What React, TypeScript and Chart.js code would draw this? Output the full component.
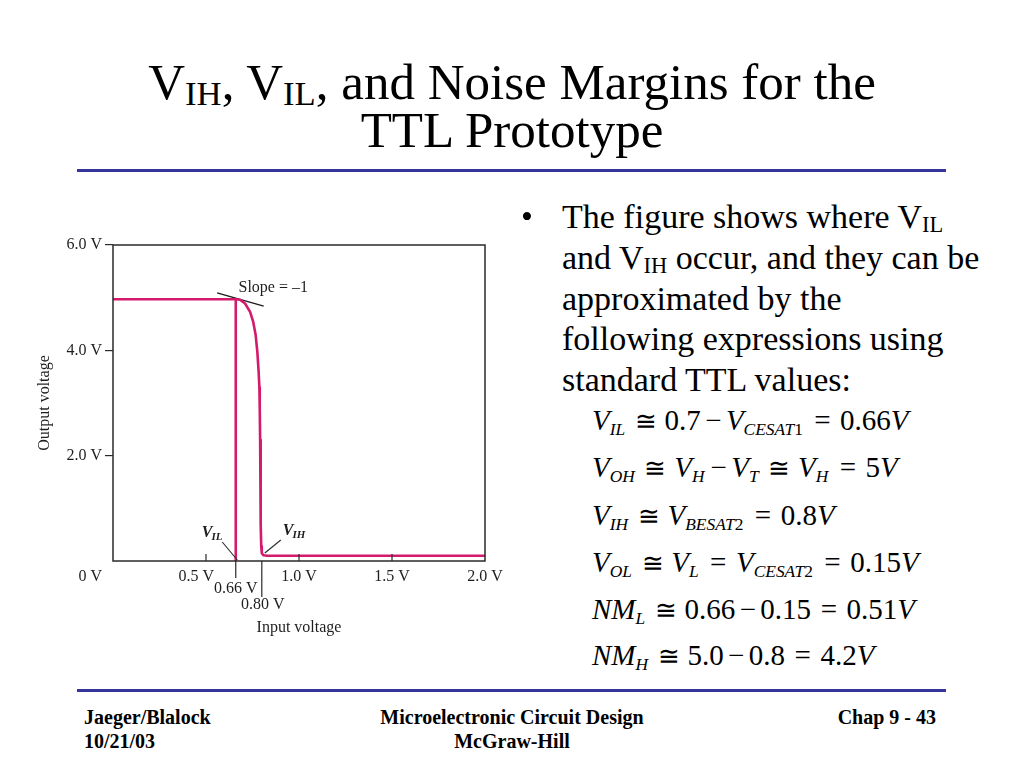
import React, { useEffect, useRef } from "react";
import { Chart, registerables } from "chart.js";

Chart.register(...registerables);

// ---- data ----
const inputVoltage = [0, 0.6, 0.66, 0.683, 0.71, 0.737, 0.754, 0.767, 0.776, 0.783, 0.787, 0.789, 0.791, 0.793, 0.795, 0.797, 0.8, 0.808, 0.83, 1.0, 1.5, 2.0];
const outputVoltage = [4.97, 4.97, 4.97, 4.96, 4.89, 4.73, 4.54, 4.29, 3.97, 3.59, 3.3, 2.9, 2.3, 1.5, 0.7, 0.28, 0.15, 0.11, 0.1, 0.1, 0.1, 0.1];
const vilLineX = [0.66, 0.66];
const vilLineY = [0, 4.97];
const slopeLineX = [0.56, 0.81];
const slopeLineY = [5.09, 4.84];
const slopeTouch = [0.68, 4.97];
const xTicks = [0.5, 1.0, 1.5, 2.0];
const xTickLabels = ["0.5 V", "1.0 V", "1.5 V", "2.0 V"];
const yTicks = [2, 4, 6];
const yTickLabels = ["2.0 V", "4.0 V", "6.0 V"];
const markerTicks = [0.66, 0.8];
const markerLabels = ["0.66 V", "0.80 V"];

const MAGENTA = "#d41a6c";
const INK = "#1e1e1e";
const SERIF = "'Liberation Serif', 'Times New Roman', serif";

const pts = (xs: number[], ys: number[]) => xs.map((x, i) => ({ x, y: ys[i] }));

const annotate = {
  id: "annotate",
  afterDraw(chart: any) {
    const { ctx, chartArea: a, scales } = chart;
    const x = scales.x;
    const y = scales.y;
    const line = (x1: number, y1: number, x2: number, y2: number) => {
      ctx.beginPath();
      ctx.moveTo(x1, y1);
      ctx.lineTo(x2, y2);
      ctx.stroke();
    };
    ctx.save();
    ctx.strokeStyle = "#2a2a2a";
    ctx.lineWidth = 1.5;
    ctx.strokeRect(a.left, a.top, a.right - a.left, a.bottom - a.top);
    ctx.lineWidth = 1.2;
    // inward x ticks
    xTicks.slice(0, 3).forEach((v) => {
      const px = x.getPixelForValue(v);
      line(px, a.bottom, px, a.bottom - 7);
    });
    // marker ticks
    const p66 = x.getPixelForValue(markerTicks[0]);
    const p80 = x.getPixelForValue(markerTicks[1]);
    line(p66, a.bottom, p66, a.bottom + 17);
    line(p80, a.bottom, p80, a.bottom + 36);

    ctx.fillStyle = INK;
    ctx.font = `16px ${SERIF}`;
    ctx.textBaseline = "middle";
    ctx.textAlign = "right";
    ctx.fillText("0 V", x.getPixelForValue(0) - 11, a.bottom + 16);
    ctx.textAlign = "center";
    ctx.fillText(markerLabels[0], p66, a.bottom + 28);
    ctx.fillText(markerLabels[1], p80 + 1, a.bottom + 44);

    // slope label
    ctx.textAlign = "left";
    ctx.fillText("Slope = \u20131", x.getPixelForValue(slopeTouch[0]) - 1, y.getPixelForValue(slopeTouch[1]) - 11);

    // pointers
    ctx.lineWidth = 1.1;
    line(p66 + 1.5, a.bottom - 1, p66 - 13.5, a.bottom - 19);
    line(p80 + 3, a.bottom - 8, p80 + 19, a.bottom - 21);

    const subLabel = (main: string, sub: string, left: number, base: number) => {
      ctx.textBaseline = "alphabetic";
      ctx.textAlign = "left";
      ctx.font = `italic bold 16px ${SERIF}`;
      ctx.fillText(main, left, base);
      const w = ctx.measureText(main).width;
      ctx.font = `italic bold 11px ${SERIF}`;
      ctx.fillText(sub, left + w - 1, base + 3);
    };
    subLabel("V", "IL", p66 - 34, a.bottom - 24);
    subLabel("V", "IH", p80 + 21, a.bottom - 26);
    ctx.restore();
  },
};

function TransferChart() {
  const ref = useRef<HTMLCanvasElement | null>(null);
  useEffect(() => {
    if (!ref.current) return;
    const font = { family: SERIF, size: 16 };
    const chart = new Chart(ref.current, {
      type: "line",
      data: {
        datasets: [
          {
            data: pts(inputVoltage, outputVoltage),
            borderColor: MAGENTA,
            borderWidth: 2.6,
            pointRadius: 0,
            tension: 0,
            borderJoinStyle: "round",
          },
          {
            data: pts(vilLineX, vilLineY),
            borderColor: MAGENTA,
            borderWidth: 2.6,
            pointRadius: 0,
          },
          {
            data: pts(slopeLineX, slopeLineY),
            borderColor: "#1a1a1a",
            borderWidth: 1.2,
            pointRadius: 0,
          },
        ],
      },
      options: {
        responsive: false,
        animation: false,
        layout: { padding: { left: 0, right: 55, top: 25, bottom: 0 } },
        plugins: { legend: { display: false }, tooltip: { enabled: false } },
        scales: {
          x: {
            type: "linear",
            min: 0,
            max: 2,
            afterBuildTicks: (s: any) => {
              s.ticks = xTicks.map((v) => ({ value: v }));
            },
            afterFit: (s: any) => {
              s.height = 89;
            },
            grid: { display: false, drawTicks: false },
            border: { display: false },
            ticks: {
              padding: 6,
              font,
              color: INK,
              maxRotation: 0,
              autoSkip: false,
              callback: (v: any) => {
                const i = xTicks.findIndex((t) => Math.abs(t - Number(v)) < 1e-6);
                if (i < 0) return "";
                return i === 0 ? xTickLabels[i] + "\u2003\u2009" : xTickLabels[i];
              },
            },
            title: {
              display: true,
              text: "Input voltage",
              font,
              color: INK,
              padding: { top: 0, bottom: 13 },
            },
          },
          y: {
            type: "linear",
            min: 0,
            max: 6,
            afterBuildTicks: (s: any) => {
              s.ticks = yTicks.map((v) => ({ value: v }));
            },
            afterFit: (s: any) => {
              s.width = 113;
            },
            grid: { drawOnChartArea: false, drawTicks: true, tickLength: 8, color: "#2a2a2a", lineWidth: 1.2 },
            border: { display: false },
            ticks: {
              padding: 3,
              font,
              color: INK,
              autoSkip: false,
              callback: (v: any) => {
                const i = yTicks.findIndex((t) => Math.abs(t - Number(v)) < 1e-6);
                return i < 0 ? "" : yTickLabels[i];
              },
            },
            title: {
              display: true,
              text: "Output voltage",
              font,
              color: INK,
              padding: { top: 35, bottom: 0 },
            },
          },
        },
      },
      plugins: [annotate],
    } as any);
    return () => chart.destroy();
  }, []);
  return (
    <canvas
      ref={ref}
      width={540}
      height={430}
      style={{ position: "absolute", left: 0, top: 220, width: 540, height: 430 }}
    />
  );
}

const subT: React.CSSProperties = { fontSize: "0.68em", verticalAlign: "-0.16em", lineHeight: 0 };
const subB: React.CSSProperties = { fontSize: "0.66em", verticalAlign: "-0.2em", lineHeight: 0 };

const I = ({ children }: { children: React.ReactNode }) => <span style={{ fontStyle: "italic" }}>{children}</span>;
const S = ({ children, it = true }: { children: React.ReactNode; it?: boolean }) => (
  <span style={{ fontStyle: it ? "italic" : "normal", fontSize: "0.6em", verticalAlign: "-0.3em", lineHeight: 0, marginRight: "0.1em" }}>
    {children}
  </span>
);
const N = ({ children }: { children: React.ReactNode }) => <span style={{ fontStyle: "normal" }}>{children}</span>;
const Cong = () => (
  <span style={{ margin: "0 0.3em", fontFamily: "'DejaVu Serif', serif", fontSize: "0.9em", fontWeight: 300 }}>≅</span>
);
const R = ({ children }: { children: React.ReactNode }) => <span style={{ margin: "0 0.33em" }}>{children}</span>;
const B = ({ children }: { children: React.ReactNode }) => <span style={{ margin: "0 0.15em" }}>{children}</span>;

export default function App() {
  const eqLine = (top: number): React.CSSProperties => ({
    position: "absolute",
    left: 592,
    top,
    fontSize: 29,
    lineHeight: "47px",
    whiteSpace: "nowrap",
  });
  const bulletLine = (i: number): React.CSSProperties => ({
    position: "absolute",
    left: 562,
    top: 196 + i * 40.8,
    fontSize: 34,
    lineHeight: "41px",
    whiteSpace: "nowrap",
  });
  const rule = (top: number): React.CSSProperties => ({
    position: "absolute",
    left: 77,
    width: 869,
    top,
    height: 3,
    background: "#34349a",
  });
  return (
    <div
      style={{
        position: "absolute",
        left: 0,
        top: 0,
        width: 1024,
        height: 768,
        background: "#fff",
        overflow: "hidden",
        fontFamily: SERIF,
        color: "#000",
      }}
    >
      <TransferChart />
      <div style={{ position: "absolute", left: 0, width: 1024, top: 58, textAlign: "center", fontSize: 51, lineHeight: "48px" }}>
        <div>
          V<span style={subT}>IH</span>, V<span style={subT}>IL</span>, and Noise Margins for the
        </div>
        <div>TTL Prototype</div>
      </div>
      <div style={rule(169)} />
      <div style={{ ...bulletLine(0), left: 521 }}>•</div>
      <div style={bulletLine(0)}>
        The figure shows where V<span style={subB}>IL</span>
      </div>
      <div style={bulletLine(1)}>
        and V<span style={subB}>IH</span> occur, and they can be
      </div>
      <div style={bulletLine(2)}>approximated by the</div>
      <div style={bulletLine(3)}>following expressions using</div>
      <div style={bulletLine(4)}>standard TTL values:</div>

      <div style={eqLine(397)}>
        <I>V</I><S>IL</S><Cong /><N>0.7</N><B>−</B><I>V</I><S>CESAT<N>1</N></S><R>=</R><N>0.66</N><I>V</I>
      </div>
      <div style={eqLine(444)}>
        <I>V</I><S>OH</S><Cong /><I>V</I><S>H</S><B>−</B><I>V</I><S>T</S><Cong /><I>V</I><S>H</S><R>=</R><N>5</N><I>V</I>
      </div>
      <div style={eqLine(492)}>
        <I>V</I><S>IH</S><Cong /><I>V</I><S>BESAT<N>2</N></S><R>=</R><N>0.8</N><I>V</I>
      </div>
      <div style={eqLine(539)}>
        <I>V</I><S>OL</S><Cong /><I>V</I><S>L</S><R>=</R><I>V</I><S>CESAT<N>2</N></S><R>=</R><N>0.15</N><I>V</I>
      </div>
      <div style={eqLine(586)}>
        <I>NM</I><S>L</S><Cong /><N>0.66</N><B>−</B><N>0.15</N><R>=</R><N>0.51</N><I>V</I>
      </div>
      <div style={eqLine(632)}>
        <I>NM</I><S>H</S><Cong /><N>5.0</N><B>−</B><N>0.8</N><R>=</R><N>4.2</N><I>V</I>
      </div>

      <div style={rule(689)} />
      <div style={{ position: "absolute", left: 84, top: 705, fontSize: 20, fontWeight: "bold", lineHeight: "24px" }}>
        <div>Jaeger/Blalock</div>
        <div>10/21/03</div>
      </div>
      <div style={{ position: "absolute", left: 0, width: 1024, top: 705, fontSize: 20, fontWeight: "bold", lineHeight: "24px", textAlign: "center" }}>
        <div>Microelectronic Circuit Design</div>
        <div>McGraw-Hill</div>
      </div>
      <div style={{ position: "absolute", right: 88, top: 705, fontSize: 20, fontWeight: "bold", lineHeight: "24px", textAlign: "right" }}>
        <div>Chap 9 - 43</div>
      </div>
    </div>
  );
}
